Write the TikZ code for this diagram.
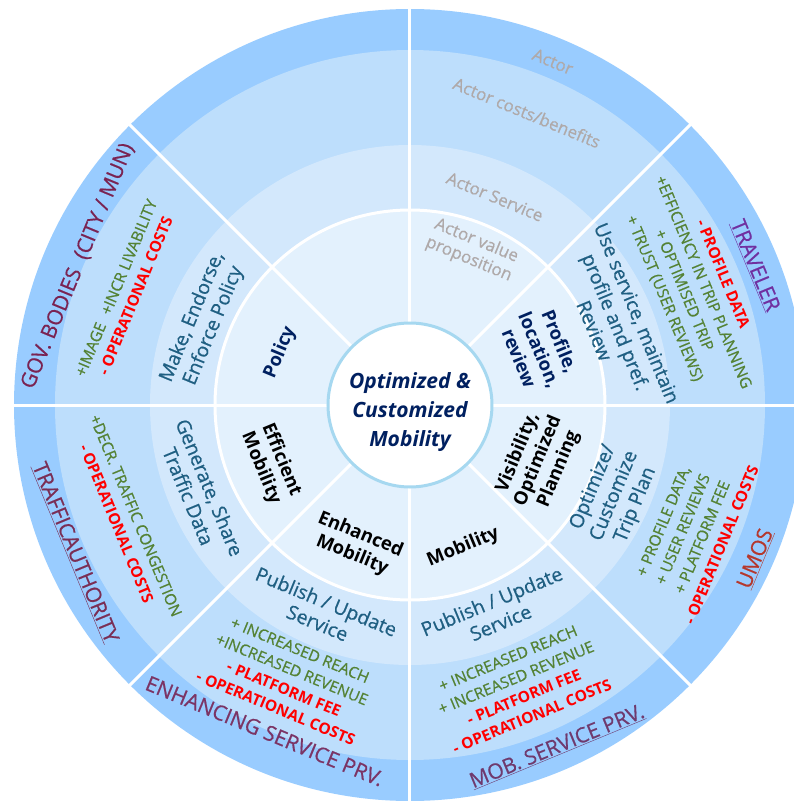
\documentclass[tikz,border=0pt]{standalone}
\usepackage{fontspec}
\setmainfont{Open Sans}[UprightFeatures={FakeBold=0.6}]
\usepackage{xcolor}
\usepackage{tikz}
\definecolor{ringOuter}{HTML}{99CCFF}
\definecolor{ringCost}{HTML}{BDDEFC}
\definecolor{ringService}{HTML}{D3E8FC}
\definecolor{ringValue}{HTML}{E3F1FD}
\definecolor{hubBorder}{HTML}{A6D8F0}
\definecolor{navy}{HTML}{002060}
\definecolor{serviceTeal}{HTML}{1F5F82}
\definecolor{benefit}{HTML}{548235}
\definecolor{cost}{HTML}{FF0000}
\definecolor{legendGray}{HTML}{AFA9A9}
\definecolor{govCol}{HTML}{7A2352}
\definecolor{trafficCol}{HTML}{7A2E55}
\definecolor{enhCol}{HTML}{7B3465}
\definecolor{mobCol}{HTML}{6F3A6E}
\definecolor{umosCol}{HTML}{B5382D}
\definecolor{travelCol}{HTML}{7030A0}
\tikzstyle{actor} = [font=\fontsize{21}{25}\selectfont, align=center]
\tikzstyle{costs} = [font=\fontsize{15.5}{21}\selectfont, align=center]
\tikzstyle{service} = [font=\fontsize{19.5}{23}\selectfont, align=center, text=serviceTeal]
\tikzstyle{value} = [font=\fontsize{18.5}{22}\selectfont\bfseries, align=center]
\tikzstyle{legend} = [font=\fontsize{17}{20}\selectfont, align=center, text=legendGray]
\tikzstyle{hub} = [circle, draw=hubBorder, line width=3, fill=white, minimum size=164]
\tikzstyle{hubtext} = [font=\fontsize{21}{29}\selectfont\bfseries\itshape, text=navy, align=center]
\tikzstyle{divider} = [white, line width=3]

\begin{document}
\begin{tikzpicture}[x=1pt, y=1pt]
		\useasboundingbox (-410,-396) rectangle (383,405);
		
		\fill[ringOuter] (0,0) circle (396);
		\fill[ringCost] (0,0) circle (355);
		\fill[ringService] (0,0) circle (260);
		\fill[ringValue] (0,0) circle (195);
		\draw[divider] (0,0) circle (195);
		
		\draw[divider] (0:82) -- (0:398);
		\draw[divider] (45:82) -- (45:398);
		\draw[divider] (90:82) -- (90:398);
		\draw[divider] (135:82) -- (135:398);
		\draw[divider] (180:82) -- (180:398);
		\draw[divider] (225:82) -- (225:398);
		\draw[divider] (270:82) -- (270:398);
		\draw[divider] (315:82) -- (315:398);
		
		\node[hub] (Hub) at (0,0) {};
		\node[hubtext] (HubText) at (0,-7) {Optimized \&\\Customized\\Mobility};
		
		% legend
		\node[legend, rotate=-22.5] (LegActor) at (67.4:372) {Actor};
		\node[legend, rotate=-22.5] (LegCosts) at (68.2:315) {Actor costs/benefits};
		\node[legend, rotate=-22.5] (LegService) at (67.8:225) {Actor Service};
		\node[legend, rotate=-22.5] (LegValue) at (68:167) {Actor value\\proposition};
		
		% traveler
		\node[actor, text=travelCol, rotate=-67.5] (Traveler) at (22:372) {\underline{TRAVELER}};
		\node[costs, rotate=-67.5] (TravelerCosts) at (22.7:307) {\textcolor{cost}{\bfseries - PROFILE DATA}\\\textcolor{benefit}{+EFFICIENCY IN TRIP PLANNING}\\\textcolor{benefit}{+ OPTIMISED TRIP}\\\textcolor{benefit}{+ TRUST (USER REVIEWS)}};
		\node[service, rotate=-67.5] (TravelerService) at (22:222) {Use service, maintain\\profile and pref.\\Review};
		\node[value, text=navy, rotate=-67.5] (TravelerValue) at (23:141) {Profile,\\location,\\review};
		
		% umos
		\node[actor, text=umosCol, rotate=67.5] (Umos) at (336:378) {\underline{UMOS}};
		\node[costs, rotate=67.5] (UmosCosts) at (335.6:310) {\textcolor{benefit}{+ PROFILE DATA,}\\\textcolor{benefit}{+ USER REVIEWS}\\\textcolor{benefit}{+ PLATFORM FEE}\\\textcolor{cost}{\bfseries - OPERATIONAL COSTS}};
		\node[service, rotate=67.5] (UmosService) at (336:224) {Optimize/\\Customize\\Trip Plan};
		\node[value, rotate=67.5] (UmosValue) at (336.4:140) {Visibility,\\Optimized\\Planning};
		
		% mobility service provider
		\node[actor, text=mobCol, rotate=22.5] (MobPrv) at (293.3:372) {\underline{MOB. SERVICE PRV.}};
		\node[costs, rotate=22.5] (MobCosts) at (291.3:303) {\textcolor{benefit}{+ INCREASED REACH}\\\textcolor{benefit}{+ INCREASED REVENUE}\\\textcolor{cost}{\bfseries - PLATFORM FEE}\\\textcolor{cost}{\bfseries - OPERATIONAL COSTS}};
		\node[service, rotate=22.5] (MobService) at (292.6:224) {Publish / Update\\Service};
		\node[value, rotate=22.5] (MobValue) at (290.5:152) {Mobility};
		
		% enhancing service provider
		\node[actor, text=enhCol, rotate=-22.5] (EnhPrv) at (246:357) {ENHANCING SERVICE PRV.};
		\node[costs, rotate=-22.5] (EnhCosts) at (246:300) {\textcolor{benefit}{+ INCREASED REACH}\\\textcolor{benefit}{+INCREASED REVENUE}\\\textcolor{cost}{\bfseries - PLATFORM FEE}\\\textcolor{cost}{\bfseries - OPERATIONAL COSTS}};
		\node[service, rotate=-22.5] (EnhService) at (247:225) {Publish / Update\\Service};
		\node[value, rotate=-22.5] (EnhValue) at (249:150) {Enhanced\\Mobility};
		
		% traffic authority
		\node[actor, text=trafficCol, rotate=-67.5] (Traffic) at (203.8:366) {\underline{TRAFFICAUTHORITY}};
		\node[costs, rotate=-67.5] (TrafficCosts) at (202:306) {\textcolor{benefit}{+DECR. TRAFFIC CONGESTION}\\\textcolor{cost}{\bfseries - OPERATIONAL COSTS}};
		\node[service, rotate=-67.5] (TrafficService) at (202.4:228) {Generate, Share\\Traffic Data};
		\node[value, rotate=-67.5] (TrafficValue) at (203:151) {Efficient\\Mobility};
		
		% government bodies
		\node[actor, text=govCol, rotate=67.5] (Gov) at (157.3:360) {GOV. BODIES\hspace{6pt} (CITY / MUN)};
		\node[costs, rotate=67.5] (GovCosts) at (158.3:306) {\textcolor{benefit}{+IMAGE\hspace{6pt} +INCR LIVABILITY}\\\textcolor{cost}{\bfseries - OPERATIONAL COSTS}};
		\node[service, rotate=67.5] (GovService) at (158:223) {Make, Endorse,\\Enforce Policy};
		\node[value, text=navy, rotate=67.5] (GovValue) at (158:140) {Policy};
	\end{tikzpicture}
\end{document}
